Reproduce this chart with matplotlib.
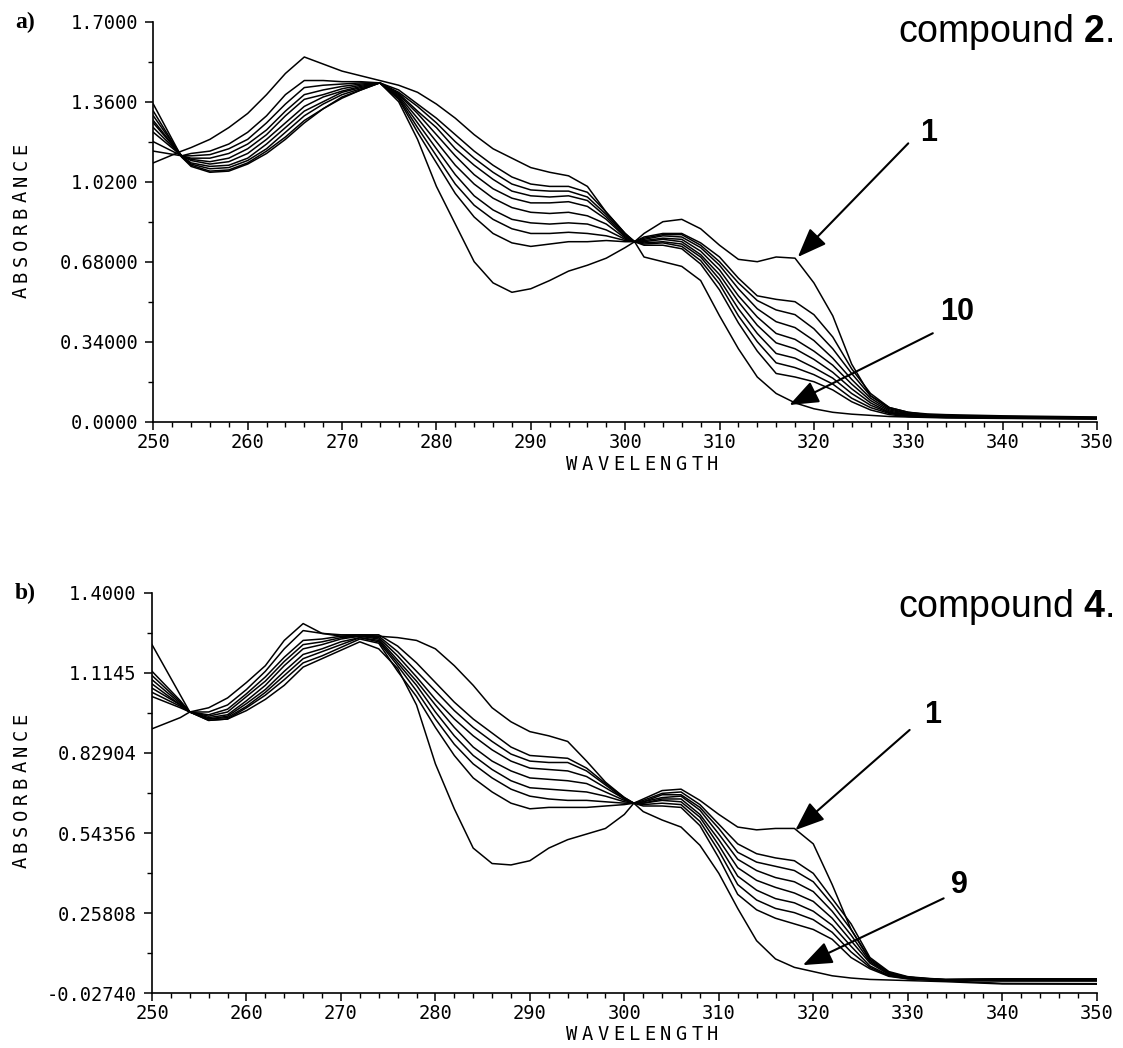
import matplotlib
matplotlib.use("Agg")
import matplotlib.pyplot as plt
from matplotlib.ticker import MultipleLocator, FixedLocator

plt.rcParams['mathtext.fontset'] = 'custom'
plt.rcParams['mathtext.rm'] = 'Liberation Sans'
plt.rcParams['mathtext.bf'] = 'Liberation Sans:bold'

# ---------------- data ----------------
wavelength = [250, 253, 254, 256, 258, 260, 262, 264, 266, 268, 270, 272, 274,
              276, 278, 280, 282, 284, 286, 288, 290, 292, 294, 296, 298, 300,
              301,
              302, 304, 306, 308, 310, 312, 314, 316, 318, 320, 322, 324, 326, 328, 330, 332, 334,
              340, 350]

# panel a) compound 2, spectra 1..10
a1 = [1.10, 1.15, 1.165, 1.20, 1.25, 1.31, 1.39, 1.48, 1.55, 1.52, 1.49, 1.47, 1.45,
      1.43, 1.40, 1.35, 1.29, 1.22, 1.16, 1.12, 1.08, 1.06, 1.045, 1.00, 0.89, 0.80,
      0.765,
      0.80, 0.85, 0.86, 0.82, 0.75, 0.69, 0.68, 0.70, 0.695, 0.59, 0.45, 0.245, 0.11, 0.06, 0.04, 0.033, 0.03,
      0.025, 0.02]
a2 = [1.15, 1.13, 1.14, 1.15, 1.18, 1.23, 1.30, 1.39, 1.45, 1.45, 1.445, 1.445, 1.44,
      1.41, 1.35, 1.29, 1.22, 1.15, 1.09, 1.04, 1.01, 1.00, 1.00, 0.975, 0.89, 0.80,
      0.765,
      0.785, 0.80, 0.80, 0.76, 0.70, 0.61, 0.535, 0.52, 0.51, 0.455, 0.36, 0.225, 0.12, 0.06, 0.04, 0.03, 0.026,
      0.022, 0.018]
a3 = [1.19, 1.13, 1.13, 1.135, 1.16, 1.20, 1.27, 1.35, 1.42, 1.43, 1.435, 1.44, 1.44,
      1.40, 1.34, 1.27, 1.19, 1.12, 1.06, 1.01, 0.985, 0.98, 0.98, 0.955, 0.88, 0.795,
      0.765,
      0.78, 0.795, 0.795, 0.75, 0.68, 0.59, 0.515, 0.475, 0.455, 0.395, 0.31, 0.205, 0.11, 0.055, 0.035, 0.028, 0.024,
      0.021, 0.017]
a4 = [1.23, 1.13, 1.12, 1.12, 1.14, 1.18, 1.24, 1.32, 1.39, 1.41, 1.425, 1.435, 1.44,
      1.395, 1.32, 1.25, 1.16, 1.09, 1.03, 0.98, 0.96, 0.955, 0.96, 0.94, 0.87, 0.79,
      0.765,
      0.775, 0.79, 0.785, 0.74, 0.665, 0.565, 0.48, 0.425, 0.40, 0.345, 0.27, 0.18, 0.10, 0.05, 0.033, 0.026, 0.023,
      0.02, 0.016]
a5 = [1.25, 1.13, 1.115, 1.105, 1.12, 1.16, 1.22, 1.30, 1.37, 1.39, 1.415, 1.43, 1.44,
      1.39, 1.31, 1.22, 1.13, 1.05, 0.99, 0.95, 0.93, 0.93, 0.935, 0.915, 0.86, 0.785,
      0.765,
      0.77, 0.78, 0.775, 0.725, 0.645, 0.535, 0.445, 0.375, 0.35, 0.30, 0.24, 0.16, 0.09, 0.045, 0.03, 0.025, 0.022,
      0.019, 0.015]
a6 = [1.27, 1.13, 1.11, 1.095, 1.105, 1.14, 1.20, 1.27, 1.34, 1.38, 1.405, 1.425, 1.44,
      1.385, 1.29, 1.19, 1.09, 1.01, 0.95, 0.91, 0.89, 0.885, 0.89, 0.875, 0.84, 0.78,
      0.765,
      0.765, 0.775, 0.765, 0.71, 0.625, 0.51, 0.41, 0.335, 0.31, 0.265, 0.21, 0.14, 0.08, 0.04, 0.028, 0.024, 0.021,
      0.018, 0.014]
a7 = [1.28, 1.13, 1.10, 1.085, 1.09, 1.12, 1.18, 1.25, 1.32, 1.36, 1.40, 1.42, 1.44,
      1.38, 1.27, 1.16, 1.05, 0.96, 0.90, 0.86, 0.845, 0.84, 0.845, 0.84, 0.815, 0.775,
      0.765,
      0.76, 0.765, 0.755, 0.70, 0.605, 0.48, 0.375, 0.29, 0.27, 0.23, 0.185, 0.12, 0.07, 0.038, 0.026, 0.022, 0.02,
      0.017, 0.013]
a8 = [1.30, 1.13, 1.095, 1.075, 1.08, 1.11, 1.16, 1.23, 1.30, 1.35, 1.39, 1.415, 1.44,
      1.375, 1.25, 1.13, 1.01, 0.92, 0.86, 0.82, 0.80, 0.80, 0.805, 0.80, 0.79, 0.77,
      0.765,
      0.755, 0.76, 0.745, 0.685, 0.585, 0.45, 0.34, 0.25, 0.23, 0.20, 0.16, 0.10, 0.06, 0.035, 0.024, 0.021, 0.019,
      0.016, 0.013]
a9 = [1.32, 1.125, 1.09, 1.065, 1.07, 1.10, 1.15, 1.21, 1.28, 1.33, 1.38, 1.41, 1.44,
      1.37, 1.23, 1.10, 0.97, 0.87, 0.80, 0.76, 0.745, 0.755, 0.765, 0.765, 0.77, 0.765,
      0.765,
      0.75, 0.75, 0.735, 0.67, 0.56, 0.42, 0.30, 0.205, 0.19, 0.17, 0.135, 0.085, 0.05, 0.03, 0.022, 0.02, 0.018,
      0.015, 0.012]
a10 = [1.35, 1.125, 1.085, 1.06, 1.065, 1.095, 1.14, 1.20, 1.27, 1.33, 1.375, 1.41, 1.44,
       1.36, 1.20, 1.00, 0.84, 0.68, 0.59, 0.55, 0.565, 0.60, 0.64, 0.665, 0.695, 0.74,
       0.765,
       0.70, 0.68, 0.66, 0.60, 0.45, 0.31, 0.19, 0.12, 0.08, 0.055, 0.04, 0.032, 0.027, 0.022, 0.02, 0.018, 0.016,
       0.014, 0.012]

# panel b) compound 4, spectra 1..9
b1 = [0.915, 0.955, 0.975, 0.99, 1.025, 1.08, 1.14, 1.23, 1.29, 1.255, 1.245, 1.245, 1.245,
      1.24, 1.23, 1.20, 1.14, 1.07, 0.99, 0.94, 0.905, 0.89, 0.87, 0.80, 0.725, 0.67,
      0.65,
      0.665, 0.695, 0.70, 0.66, 0.61, 0.565, 0.555, 0.56, 0.56, 0.505, 0.36, 0.20, 0.09, 0.045, 0.03, 0.025, 0.022,
      0.024, 0.024]
b2 = [1.03, 0.99, 0.975, 0.975, 1.00, 1.055, 1.12, 1.20, 1.265, 1.255, 1.25, 1.25, 1.25,
      1.21, 1.15, 1.08, 1.01, 0.95, 0.90, 0.85, 0.82, 0.815, 0.81, 0.775, 0.72, 0.67,
      0.65,
      0.66, 0.685, 0.69, 0.645, 0.575, 0.505, 0.47, 0.455, 0.445, 0.40, 0.31, 0.22, 0.10, 0.05, 0.032, 0.026, 0.022,
      0.024, 0.024]
b3 = [1.045, 0.995, 0.975, 0.965, 0.985, 1.04, 1.10, 1.17, 1.23, 1.235, 1.245, 1.25, 1.245,
      1.19, 1.12, 1.05, 0.98, 0.92, 0.87, 0.825, 0.80, 0.795, 0.795, 0.765, 0.715, 0.665,
      0.65,
      0.655, 0.68, 0.68, 0.635, 0.56, 0.475, 0.44, 0.425, 0.41, 0.37, 0.29, 0.20, 0.095, 0.047, 0.03, 0.025, 0.021,
      0.023, 0.023]
b4 = [1.06, 1.00, 0.975, 0.96, 0.975, 1.03, 1.085, 1.155, 1.215, 1.225, 1.24, 1.245, 1.24,
      1.175, 1.10, 1.02, 0.95, 0.89, 0.84, 0.80, 0.775, 0.77, 0.765, 0.745, 0.705, 0.665,
      0.65,
      0.655, 0.67, 0.675, 0.625, 0.54, 0.45, 0.41, 0.385, 0.37, 0.335, 0.265, 0.18, 0.085, 0.043, 0.028, 0.024, 0.02,
      0.018, 0.018]
b5 = [1.075, 1.00, 0.975, 0.955, 0.965, 1.015, 1.07, 1.14, 1.20, 1.215, 1.235, 1.245, 1.235,
      1.16, 1.085, 1.00, 0.92, 0.85, 0.80, 0.765, 0.74, 0.735, 0.73, 0.72, 0.69, 0.66,
      0.65,
      0.65, 0.665, 0.665, 0.61, 0.52, 0.42, 0.375, 0.35, 0.33, 0.30, 0.24, 0.16, 0.08, 0.04, 0.027, 0.023, 0.02,
      0.018, 0.018]
b6 = [1.09, 1.005, 0.975, 0.95, 0.96, 1.005, 1.055, 1.12, 1.18, 1.20, 1.225, 1.24, 1.23,
      1.15, 1.07, 0.975, 0.89, 0.82, 0.77, 0.73, 0.705, 0.70, 0.695, 0.69, 0.675, 0.655,
      0.65,
      0.65, 0.66, 0.655, 0.60, 0.50, 0.39, 0.34, 0.31, 0.295, 0.265, 0.215, 0.14, 0.07, 0.037, 0.026, 0.022, 0.019,
      0.018, 0.018]
b7 = [1.105, 1.01, 0.975, 0.95, 0.955, 0.995, 1.045, 1.105, 1.165, 1.19, 1.215, 1.24, 1.225,
      1.14, 1.05, 0.95, 0.86, 0.79, 0.74, 0.70, 0.675, 0.665, 0.66, 0.66, 0.655, 0.65,
      0.65,
      0.645, 0.65, 0.645, 0.585, 0.48, 0.36, 0.305, 0.275, 0.26, 0.235, 0.19, 0.12, 0.065, 0.035, 0.025, 0.021, 0.018,
      0.017, 0.017]
b8 = [1.12, 1.015, 0.975, 0.945, 0.95, 0.99, 1.035, 1.09, 1.15, 1.175, 1.205, 1.235, 1.22,
      1.12, 1.03, 0.92, 0.82, 0.74, 0.69, 0.65, 0.63, 0.635, 0.635, 0.635, 0.64, 0.645,
      0.65,
      0.64, 0.64, 0.635, 0.57, 0.455, 0.325, 0.27, 0.24, 0.22, 0.20, 0.165, 0.10, 0.06, 0.033, 0.024, 0.02, 0.017,
      0.008, 0.007]
b9 = [1.215, 1.035, 0.975, 0.945, 0.95, 0.98, 1.02, 1.07, 1.135, 1.165, 1.195, 1.225, 1.20,
      1.13, 1.00, 0.79, 0.63, 0.49, 0.435, 0.43, 0.445, 0.49, 0.52, 0.54, 0.56, 0.61,
      0.65,
      0.62, 0.59, 0.565, 0.50, 0.40, 0.275, 0.16, 0.095, 0.065, 0.05, 0.035, 0.027, 0.022, 0.02, 0.018, 0.016, 0.014,
      0.006, 0.005]

a_yticks = [0.0, 0.34, 0.68, 1.02, 1.36, 1.70]
a_ylabels = ["0.0000", "0.34000", "0.68000", "1.0200", "1.3600", "1.7000"]
b_yticks = [-0.0274, 0.25808, 0.54356, 0.82904, 1.1145, 1.40]
b_ylabels = ["-0.02740", "0.25808", "0.54356", "0.82904", "1.1145", "1.4000"]
x_ticks = [250, 260, 270, 280, 290, 300, 310, 320, 330, 340, 350]

# ---------------- figure ----------------
W, H = 1123, 1048
fig = plt.figure(figsize=(W / 100, H / 100), dpi=100)
MONO = 'DejaVu Sans Mono'


def add_ax(left, top, right, bottom):
    return fig.add_axes([left / W, 1 - bottom / H, (right - left) / W, (bottom - top) / H])


def style(ax, yticks, ylabels):
    for s in ('top', 'right'):
        ax.spines[s].set_visible(False)
    for s in ('left', 'bottom'):
        ax.spines[s].set_linewidth(1.2)
    ax.set_xlim(250, 350)
    ax.set_ylim(yticks[0], yticks[-1])
    ax.set_xticks(x_ticks)
    ax.set_xticklabels([str(t) for t in x_ticks])
    ax.xaxis.set_minor_locator(MultipleLocator(2))
    ax.set_yticks(yticks)
    ax.set_yticklabels(ylabels)
    mids = [(yticks[i] + yticks[i + 1]) / 2 for i in range(len(yticks) - 1)]
    ax.yaxis.set_minor_locator(FixedLocator(mids))
    ax.tick_params(axis='x', which='major', length=6, width=1.1, pad=2, direction='out')
    ax.tick_params(axis='x', which='minor', length=3.5, width=1.0, direction='out')
    ax.tick_params(axis='y', which='major', length=6, width=1.1, pad=5, direction='out')
    ax.tick_params(axis='y', which='minor', length=3.5, width=1.0, direction='out')
    for lab in ax.get_xticklabels() + ax.get_yticklabels():
        lab.set_fontfamily(MONO)
        lab.set_fontsize(13.5)


def spaced(text, x0, y0, pitch, vertical=False):
    for i, ch in enumerate(text):
        if vertical:
            fig.text(x0 / W, 1 - (y0 - i * pitch) / H, ch, rotation=90, ha='center', va='center',
                     family=MONO, fontsize=13.5)
        else:
            fig.text((x0 + i * pitch) / W, 1 - y0 / H, ch, ha='center', va='center',
                     family=MONO, fontsize=13.5)


def arrow(ax, head, tail):
    ax.annotate('', xy=head, xytext=tail,
                arrowprops=dict(arrowstyle='-|>,head_length=1.8,head_width=0.7', mutation_scale=10,
                                color='black', lw=1.5, shrinkA=0, shrinkB=0))


ax_a = add_ax(153.3, 21.7, 1097, 421.7)
ax_b = add_ax(152, 592.7, 1096.7, 993.3)

for s in [a1, a2, a3, a4, a5, a6, a7, a8, a9, a10]:
    ax_a.plot(wavelength, s, color='black', lw=1.1)
for s in [b1, b2, b3, b4, b5, b6, b7, b8, b9]:
    ax_b.plot(wavelength, s, color='black', lw=1.1)

style(ax_a, a_yticks, a_ylabels)
style(ax_b, b_yticks, b_ylabels)

# arrows and numbers
arrow(ax_a, (318.3, 0.70), (330.0, 1.183))
arrow(ax_a, (317.4, 0.071), (332.6, 0.376))
ax_a.text(332.2, 1.227, '1', ha='center', va='center', family='Liberation Sans', weight='bold', fontsize=22)
ax_a.text(335.2, 0.466, '10', ha='center', va='center', family='Liberation Sans', weight='bold', fontsize=22)

arrow(ax_b, (318.1, 0.554), (330.2, 0.911))
arrow(ax_b, (318.9, 0.073), (333.8, 0.311))
ax_b.text(332.6, 0.964, '1', ha='center', va='center', family='Liberation Sans', weight='bold', fontsize=22)
ax_b.text(335.5, 0.358, '9', ha='center', va='center', family='Liberation Sans', weight='bold', fontsize=22)

# titles
fig.text(1113 / W, 1 - 41.7 / H, r'compound $\mathbf{2}$.', ha='right', va='baseline',
         family='Liberation Sans', fontsize=27)
fig.text(1113 / W, 1 - 616.7 / H, r'compound $\mathbf{4}$.', ha='right', va='baseline',
         family='Liberation Sans', fontsize=27)

fig.text(25 / W, 1 - 22 / H, 'a)', ha='center', va='center', family='Liberation Serif',
         weight='bold', fontsize=17)
fig.text(25 / W, 1 - 593 / H, 'b)', ha='center', va='center', family='Liberation Serif',
         weight='bold', fontsize=17)

# axis labels (letter-spaced plotter style)
spaced('ABSORBANCE', 21, 292, 16, vertical=True)
spaced('ABSORBANCE', 21, 862, 16, vertical=True)
spaced('WAVELENGTH', 572, 465, 15.6)
spaced('WAVELENGTH', 572, 1035, 15.6)

fig.savefig('out.png', dpi=100, facecolor='white')
